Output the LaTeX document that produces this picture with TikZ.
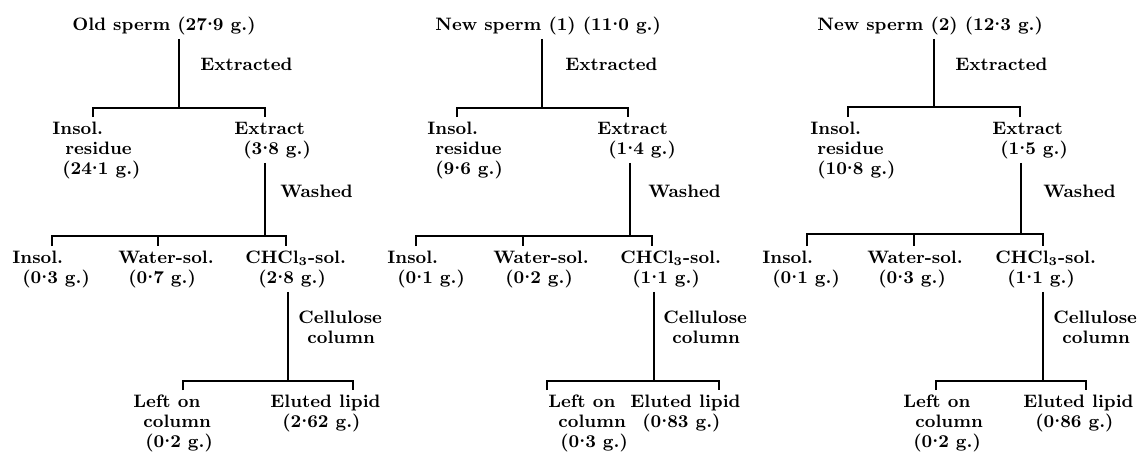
\documentclass[tikz,border=0pt]{standalone}
\newcommand\mdt{\raisebox{0.55ex}{.}}
\begin{document}
\begin{tikzpicture}[x=0.5pt,y=-0.5pt,
  lbl/.style={anchor=base west, inner xsep=0pt, inner ysep=2pt, font=\fontsize{9}{10}\selectfont\bfseries},
  ln/.style={line width=0.8pt}]
\useasboundingbox (0,0) rectangle (1137,452);

% ---------------- Diagram 1 ----------------
\node[lbl] (t1) at (72,30) {Old sperm (27\mdt9 g.)};
\node[lbl] (e1) at (200,70) {Extracted};
\node[lbl] (r1a) at (52,134) {Insol.};
\node[lbl] (r1b) at (65,154) {residue};
\node[lbl] (r1c) at (62,174) {(24\mdt1 g.)};
\node[lbl] (x1a) at (234,134) {Extract};
\node[lbl] (x1b) at (243,154) {(3\mdt8 g.)};
\node[lbl] (w1) at (280,197) {Washed};
\node[lbl] (i1a) at (12,263) {Insol.};
\node[lbl] (i1b) at (22,283) {(0\mdt3 g.)};
\node[lbl] (s1a) at (118,263) {Water-sol.};
\node[lbl] (s1b) at (128,283) {(0\mdt7 g.)};
\node[lbl] (c1a) at (245,263) {CHCl\textsubscript{3}-sol.};
\node[lbl] (c1b) at (258,283) {(2\mdt8 g.)};
\node[lbl] (u1a) at (298,323) {Cellulose};
\node[lbl] (u1b) at (307,343) {column};
\node[lbl] (l1a) at (133,407) {Left on};
\node[lbl] (l1b) at (143,427) {column};
\node[lbl] (l1c) at (145,447) {(0\mdt2 g.)};
\node[lbl] (el1a) at (270,407) {Eluted lipid};
\node[lbl] (el1b) at (282,427) {(2\mdt62 g.)};

\coordinate (p1) at (179,108); \coordinate (q1l) at (93,108); \coordinate (q1r) at (265,108);
\coordinate (p1w) at (265,236); \coordinate (q1a) at (52,236); \coordinate (q1b) at (158,236); \coordinate (q1c) at (286,236);
\coordinate (p1u) at (288,381); \coordinate (q1d) at (183,381); \coordinate (q1e) at (353,381);
\draw[ln] (t1.south -| p1) -- (p1);
\draw[ln] (q1l |- r1a.north) -- (q1l) -- (q1r) -- (q1r |- x1a.north);
\draw[ln] (x1b.south -| p1w) -- (p1w);
\draw[ln] (q1a |- i1a.north) -- (q1a) -- (q1c) -- (q1c |- c1a.north);
\draw[ln] (q1b) -- (q1b |- s1a.north);
\draw[ln] (c1b.south -| p1u) -- (p1u);
\draw[ln] (q1d |- l1a.north) -- (q1d) -- (q1e) -- (q1e |- el1a.north);

% ---------------- Diagram 2 ----------------
\node[lbl] (t2) at (435,30) {New sperm (1) (11\mdt0 g.)};
\node[lbl] (e2) at (565,70) {Extracted};
\node[lbl] (r2a) at (427,134) {Insol.};
\node[lbl] (r2b) at (435,154) {residue};
\node[lbl] (r2c) at (435,174) {(9\mdt6 g.)};
\node[lbl] (x2a) at (597,134) {Extract};
\node[lbl] (x2b) at (608,154) {(1\mdt4 g.)};
\node[lbl] (w2) at (648,197) {Washed};
\node[lbl] (i2a) at (387,263) {Insol.};
\node[lbl] (i2b) at (397,283) {(0\mdt1 g.)};
\node[lbl] (s2a) at (493,263) {Water-sol.};
\node[lbl] (s2b) at (505,283) {(0\mdt2 g.)};
\node[lbl] (c2a) at (620,263) {CHCl\textsubscript{3}-sol.};
\node[lbl] (c2b) at (632,283) {(1\mdt1 g.)};
\node[lbl] (u2a) at (663,323) {Cellulose};
\node[lbl] (u2b) at (672,343) {column};
\node[lbl] (l2a) at (548,407) {Left on};
\node[lbl] (l2b) at (558,427) {column};
\node[lbl] (l2c) at (560,447) {(0\mdt3 g.)};
\node[lbl] (el2a) at (630,407) {Eluted lipid};
\node[lbl] (el2b) at (642,427) {(0\mdt83 g.)};

\coordinate (p2) at (542,108); \coordinate (q2l) at (457,108); \coordinate (q2r) at (628,108);
\coordinate (p2w) at (630,236); \coordinate (q2a) at (416,236); \coordinate (q2b) at (523,236); \coordinate (q2c) at (652,236);
\coordinate (p2u) at (654,381); \coordinate (q2d) at (547,381); \coordinate (q2e) at (719,381);
\draw[ln] (t2.south -| p2) -- (p2);
\draw[ln] (q2l |- r2a.north) -- (q2l) -- (q2r) -- (q2r |- x2a.north);
\draw[ln] (x2b.south -| p2w) -- (p2w);
\draw[ln] (q2a |- i2a.north) -- (q2a) -- (q2c) -- (q2c |- c2a.north);
\draw[ln] (q2b) -- (q2b |- s2a.north);
\draw[ln] (c2b.south -| p2u) -- (p2u);
\draw[ln] (q2d |- l2a.north) -- (q2d) -- (q2e) -- (q2e |- el2a.north);

% ---------------- Diagram 3 ----------------
\node[lbl] (t3) at (817,30) {New sperm (2) (12\mdt3 g.)};
\node[lbl] (e3) at (955,70) {Extracted};
\node[lbl] (r3a) at (810,134) {Insol.};
\node[lbl] (r3b) at (817,154) {residue};
\node[lbl] (r3c) at (817,174) {(10\mdt8 g.)};
\node[lbl] (x3a) at (992,134) {Extract};
\node[lbl] (x3b) at (1000,154) {(1\mdt5 g.)};
\node[lbl] (w3) at (1043,197) {Washed};
\node[lbl] (i3a) at (762,263) {Insol.};
\node[lbl] (i3b) at (772,283) {(0\mdt1 g.)};
\node[lbl] (s3a) at (867,263) {Water-sol.};
\node[lbl] (s3b) at (878,283) {(0\mdt3 g.)};
\node[lbl] (c3a) at (995,263) {CHCl\textsubscript{3}-sol.};
\node[lbl] (c3b) at (1007,283) {(1\mdt1 g.)};
\node[lbl] (u3a) at (1053,323) {Cellulose};
\node[lbl] (u3b) at (1062,343) {column};
\node[lbl] (l3a) at (903,407) {Left on};
\node[lbl] (l3b) at (915,427) {column};
\node[lbl] (l3c) at (913,447) {(0\mdt2 g.)};
\node[lbl] (el3a) at (1023,407) {Eluted lipid};
\node[lbl] (el3b) at (1035,427) {(0\mdt86 g.)};

\coordinate (p3) at (934,107); \coordinate (q3l) at (848,107); \coordinate (q3r) at (1020,107);
\coordinate (p3w) at (1021,234); \coordinate (q3a) at (807,234); \coordinate (q3b) at (914,234); \coordinate (q3c) at (1043,234);
\coordinate (p3u) at (1043,381); \coordinate (q3d) at (936,381); \coordinate (q3e) at (1086,381);
\draw[ln] (t3.south -| p3) -- (p3);
\draw[ln] (q3l |- r3a.north) -- (q3l) -- (q3r) -- (q3r |- x3a.north);
\draw[ln] (x3b.south -| p3w) -- (p3w);
\draw[ln] (q3a |- i3a.north) -- (q3a) -- (q3c) -- (q3c |- c3a.north);
\draw[ln] (q3b) -- (q3b |- s3a.north);
\draw[ln] (c3b.south -| p3u) -- (p3u);
\draw[ln] (q3d |- l3a.north) -- (q3d) -- (q3e) -- (q3e |- el3a.north);
\end{tikzpicture}
\end{document}
